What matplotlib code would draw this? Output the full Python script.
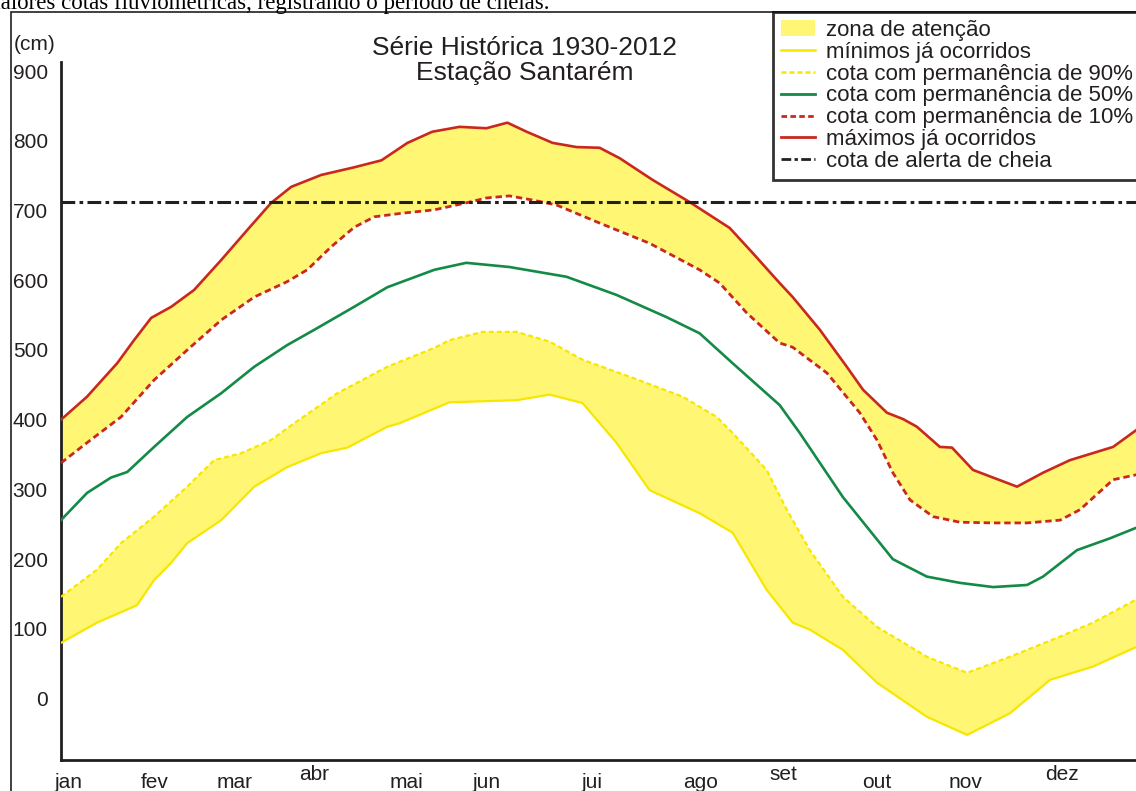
#! -*- coding: utf-8 -*-

#---------------------------------
# モジュールのインポート
#---------------------------------
import numpy as np
import matplotlib
matplotlib.use('Agg')
import matplotlib.pyplot as plt
from matplotlib.patches import Rectangle, Patch
from matplotlib.lines import Line2D
from matplotlib.transforms import ScaledTranslation

#---------------------------------
# データ (x: dia do ano, y: cota em cm)
#---------------------------------
meses = ['jan', 'fev', 'mar', 'abr', 'mai', 'jun', 'jui', 'ago', 'set', 'out', 'nov', 'dez']
meses_x = [2.4, 31.8, 58.6, 85.7, 116.8, 143.9, 179.8, 216.4, 244.2, 276.0, 306.0, 338.6]

max_x = [0, 8.8, 19.0, 24.7, 30.5, 37.3, 45.0, 54.2, 63.0, 71.1, 77.9, 88.0, 99.2, 108.4, 117.2,
         125.6, 134.8, 143.9, 151.0, 157.5, 166.3, 174.4, 182.2, 189.0, 200.1, 212.7, 226.2, 234.0,
         243.1, 247.5, 256.7, 265.8, 271.3, 279.4, 284.8, 289.5, 297.3, 301.4, 308.5, 315.3, 323.4,
         332.2, 341.3, 355.9, 363.7]
max_y = [400, 433, 481, 514, 546, 562, 586, 629, 672, 711, 734, 751, 762, 772, 797,
         813, 820, 818, 826, 813, 797, 791, 790, 775, 744, 712, 675, 639,
         596, 576, 529, 476, 443, 410, 401, 390, 361, 360, 328, 317, 304,
         324, 342, 361, 385]

p10_x = [0, 8.8, 20.3, 31.5, 42.7, 54.2, 65.4, 76.5, 83.3, 91.4, 99.2, 106.0, 115.1, 126.3, 137.1,
         143.9, 151.7, 159.5, 167.6, 182.2, 199.1, 216.0, 222.8, 232.0, 243.1, 247.5, 259.1, 270.2,
         276.0, 281.4, 287.2, 295.0, 304.1, 315.3, 326.8, 338.0, 344.7, 355.9, 363.7]
p10_y = [338, 367, 404, 457, 500, 543, 576, 598, 615, 648, 676, 691, 696, 701, 711,
         718, 721, 715, 708, 682, 653, 615, 596, 553, 510, 504, 467, 410,
         371, 324, 285, 261, 253, 252, 252, 256, 271, 314, 321]

p50_x = [0, 8.8, 16.9, 22.4, 31.5, 42.7, 54.2, 65.4, 76.5, 85.7, 99.2, 110.4, 126.3, 137.1, 151.7,
         171.0, 187.9, 204.9, 216.0, 227.2, 243.1, 249.9, 264.5, 281.4, 292.9, 304.1, 315.3, 326.8,
         332.2, 343.7, 354.9, 363.7]
p50_y = [256, 295, 317, 325, 361, 404, 438, 476, 507, 529, 562, 590, 615, 625, 619,
         605, 579, 547, 524, 481, 421, 381, 289, 200, 175, 166, 160, 163,
         175, 213, 230, 245]

p90_x = [0, 12.2, 20.3, 31.5, 42.7, 51.8, 61.0, 71.1, 78.9, 93.5, 110.4, 126.3, 131.4, 142.6, 154.1,
         165.3, 176.4, 193.4, 210.3, 221.8, 227.2, 238.7, 245.5, 253.3, 264.5, 276.0, 292.9, 306.5,
         321.0, 338.0, 349.1, 363.7]
p90_y = [146, 185, 223, 261, 304, 342, 352, 371, 395, 438, 476, 503, 514, 526, 526,
         512, 486, 460, 433, 404, 381, 328, 271, 213, 146, 103, 60, 37,
         60, 89, 109, 142]

min_x = [0, 12.2, 25.7, 31.5, 37.3, 42.7, 54.2, 65.4, 76.5, 88.0, 96.9, 110.4, 114.6, 131.4, 154.1,
         165.3, 176.4, 187.9, 199.1, 216.0, 227.2, 238.7, 247.5, 253.3, 264.5, 276.0, 292.9, 306.5,
         321.0, 334.6, 349.1, 363.7]
min_y = [80, 109, 134, 170, 195, 223, 256, 304, 332, 352, 360, 390, 395, 425, 428,
         436, 424, 367, 299, 266, 238, 156, 109, 99, 70, 23, -26, -52,
         -21, 27, 46, 74]

cota_alerta = 712
yticks = [0, 100, 200, 300, 400, 500, 600, 700, 800, 900]

legendas = ['zona de atenção', 'mínimos já ocorridos', 'cota com permanência de 90%',
            'cota com permanência de 50%', 'cota com permanência de 10%',
            'máximos já ocorridos', 'cota de alerta de cheia']

#---------------------------------
# 定数定義
#---------------------------------
W, H = 1136, 791
AMARELO_FILL = '#fff773'
AMARELO = '#f7e600'
VERDE = '#138a46'
VERMELHO = '#c9281e'
PRETO = '#231f20'

def fx(px):
	return px / W

def fy(py):
	return 1 - py / H

def main():
	plt.rcParams['font.family'] = ['Liberation Sans', 'DejaVu Sans']

	fig = plt.figure(figsize=(W / 100, H / 100), dpi=100)
	ax = fig.add_axes([fx(61), fy(760), (1140 - 61) / W, (760 - 62) / H])

	# --- zonas de atenção ---
	ax.fill(np.concatenate([max_x, p10_x[::-1]]), np.concatenate([max_y, p10_y[::-1]]),
			color=AMARELO_FILL, lw=0, zorder=1)
	ax.fill(np.concatenate([p90_x, min_x[::-1]]), np.concatenate([p90_y, min_y[::-1]]),
			color=AMARELO_FILL, lw=0, zorder=1)

	# --- curvas ---
	ax.plot(min_x, min_y, color=AMARELO, lw=1.6, zorder=3)
	ax.plot(p90_x, p90_y, color=AMARELO, lw=1.6, ls=(0, (2.2, 1.4)), zorder=3)
	ax.plot(p50_x, p50_y, color=VERDE, lw=1.9, zorder=3)
	ax.plot(p10_x, p10_y, color=VERMELHO, lw=2.0, ls=(0, (2.3, 1.4)), zorder=3)
	ax.plot(max_x, max_y, color=VERMELHO, lw=1.9, zorder=3)
	ax.axhline(cota_alerta, color=PRETO, lw=2.2, ls=(0, (4.5, 1.4, 1.2, 1.4)), zorder=5)

	# --- eixos ---
	ax.set_xlim(0, 365)
	ax.set_ylim(-88, 913)
	for s in ['top', 'right']:
		ax.spines[s].set_visible(False)
	for s in ['left', 'bottom']:
		ax.spines[s].set_linewidth(2.0)
		ax.spines[s].set_color(PRETO)
	ax.set_yticks(yticks)
	ax.set_yticklabels([str(v) for v in yticks])
	ax.set_xticks(meses_x)
	ax.set_xticklabels(meses)
	ax.tick_params(axis='both', length=0, labelsize=15, colors=PRETO)
	ax.tick_params(axis='y', pad=9.5)
	ax.tick_params(axis='x', pad=9)
	for i in [3, 8, 11]:
		lab = ax.get_xticklabels()[i]
		lab.set_transform(lab.get_transform() + ScaledTranslation(0, 8 / 100, fig.dpi_scale_trans))

	# --- textos ---
	fig.text(fx(525), fy(48), 'Série Histórica 1930-2012', ha='center', va='center', fontsize=19, color=PRETO)
	fig.text(fx(525), fy(73), 'Estação Santarém', ha='center', va='center', fontsize=19, color=PRETO)
	fig.text(fx(14), fy(45), '(cm)', ha='left', va='center', fontsize=15, color=PRETO)
	fig.text(fx(-17), fy(9), 'maiores cotas fluviométricas, registrando o período de cheias.',
			 family='Liberation Serif', fontsize=16.5, va='baseline', color='black')

	# --- moldura ---
	fig.add_artist(Rectangle((fx(11), fy(820)), 2, fy(12) - fy(820), transform=fig.transFigure,
							 fill=False, lw=1.2, ec=PRETO))

	# --- legenda ---
	handles = [Patch(facecolor=AMARELO_FILL, edgecolor='none'),
			   Line2D([], [], color=AMARELO, lw=1.8),
			   Line2D([], [], color=AMARELO, lw=1.8, ls=(0, (2.0, 1.2))),
			   Line2D([], [], color=VERDE, lw=2.0),
			   Line2D([], [], color=VERMELHO, lw=2.0, ls=(0, (2.0, 1.2))),
			   Line2D([], [], color=VERMELHO, lw=2.0),
			   Line2D([], [], color=PRETO, lw=2.0, ls=(0, (3.5, 1.2, 1.2, 1.2)))]
	leg = fig.legend(handles, legendas, loc='upper left', bbox_to_anchor=(fx(773), fy(12)),
					 fontsize=16, frameon=True, fancybox=False, edgecolor='black',
					 handlelength=1.55, handletextpad=0.5, labelspacing=0.04,
					 borderpad=0.35, borderaxespad=0)
	leg.get_frame().set_linewidth(2.0)
	for t in leg.get_texts():
		t.set_color(PRETO)

	fig.savefig('out.png', dpi=100)
	plt.close()

	return

#---------------------------------
# メイン処理
#---------------------------------
if __name__ == '__main__':
	main()
